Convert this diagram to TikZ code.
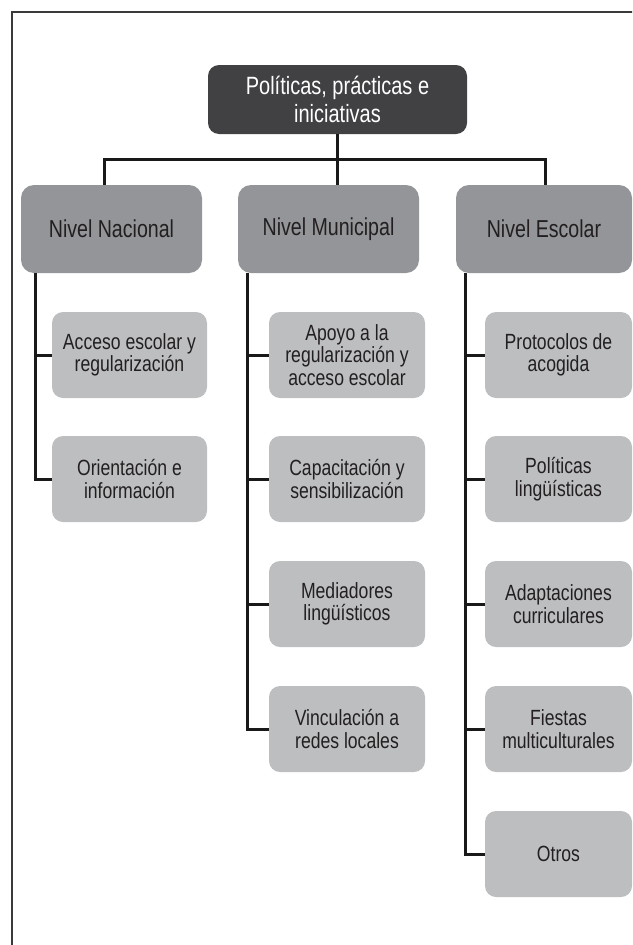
\documentclass[tikz,border=0pt]{standalone}
\usepackage{fontspec}
\setmainfont{Liberation Sans}[FakeStretch=0.8]
\definecolor{topfill}{HTML}{414042}
\definecolor{lvlfill}{HTML}{939598}
\definecolor{chfill}{HTML}{BCBEC0}
\definecolor{txt}{HTML}{231F20}
\definecolor{framecol}{HTML}{3A3A3A}
\tikzset{
  topbox/.style={rectangle, rounded corners=11pt, fill=topfill, text=white, align=center,
    minimum width=259pt, minimum height=69pt, inner sep=0pt,
    font=\fontsize{25}{28}\selectfont},
  lvlbox/.style={rectangle, rounded corners=13pt, fill=lvlfill, text=txt, align=center,
    minimum width=181pt, minimum height=88pt, inner sep=0pt,
    font=\fontsize{24.5}{27}\selectfont},
  chbox/.style={rectangle, rounded corners=11pt, fill=chfill, text=txt, align=center,
    minimum width=156pt, minimum height=86pt, inner sep=0pt,
    font=\fontsize{22}{22.5}\selectfont},
  conn/.style={draw=black!90, line width=3pt, line cap=butt}
}
\begin{document}
\begin{tikzpicture}[x=1pt, y=-1pt]
\useasboundingbox (0,0) rectangle (632,945);
\clip (0,0) rectangle (632,945);
\draw[framecol, line width=1.4pt] (12,946) -- (12,12) -- (633,12);

\node[topbox] (top) at (337.5,99.5) {Políticas, prácticas e\\iniciativas};

\node[lvlbox] (nac) at (111.5,229) {Nivel Nacional};
\node[lvlbox] (mun) at (328.5,229) {Nivel Municipal};
\node[lvlbox, minimum width=176pt] (esc) at (544,229) {Nivel Escolar};

\node[chbox, minimum width=155pt] (n1) at (129.5,355) {Acceso escolar y\\regularización};
\node[chbox, minimum width=155pt] (n2) at (129.5,479) {Orientación e\\información};

\node[chbox] (m1) at (347,355) {Apoyo a la\\regularización y\\acceso escolar};
\node[chbox] (m2) at (347,479) {Capacitación y\\sensibilización};
\node[chbox] (m3) at (347,604) {Mediadores\\lingüísticos};
\node[chbox] (m4) at (347,729) {Vinculación a\\redes locales};

\node[chbox, minimum width=147pt] (e1) at (558.5,355) {Protocolos de\\acogida};
\node[chbox, minimum width=147pt] (e2) at (558.5,479) {Políticas\\lingüísticas};
\node[chbox, minimum width=147pt] (e3) at (558.5,604) {Adaptaciones\\curriculares};
\node[chbox, minimum width=147pt] (e4) at (558.5,729) {Fiestas\\multiculturales};
\node[chbox, minimum width=147pt] (e5) at (558.5,854) {Otros};

% bus
\coordinate (busL) at (104,159);
\coordinate (busR) at (545,159);
\draw[conn] (busL |- nac.north) -- (busL) -- (busR) -- (busR |- esc.north);
\draw[conn] (top.south) -- (top.south |- mun.north);

% trunks
\coordinate (tN) at (35,0);
\coordinate (tM) at (247,0);
\coordinate (tE) at (465,0);
\draw[conn] (tN |- nac.south) -- (tN |- n2.west) -- (n2.west);
\draw[conn] (tN |- n1.west) -- (n1.west);

\draw[conn] (tM |- mun.south) -- (tM |- m4.west) -- (m4.west);
\draw[conn] (tM |- m1.west) -- (m1.west);
\draw[conn] (tM |- m2.west) -- (m2.west);
\draw[conn] (tM |- m3.west) -- (m3.west);

\draw[conn] (tE |- esc.south) -- (tE |- e5.west) -- (e5.west);
\draw[conn] (tE |- e1.west) -- (e1.west);
\draw[conn] (tE |- e2.west) -- (e2.west);
\draw[conn] (tE |- e3.west) -- (e3.west);
\draw[conn] (tE |- e4.west) -- (e4.west);
\end{tikzpicture}
\end{document}
